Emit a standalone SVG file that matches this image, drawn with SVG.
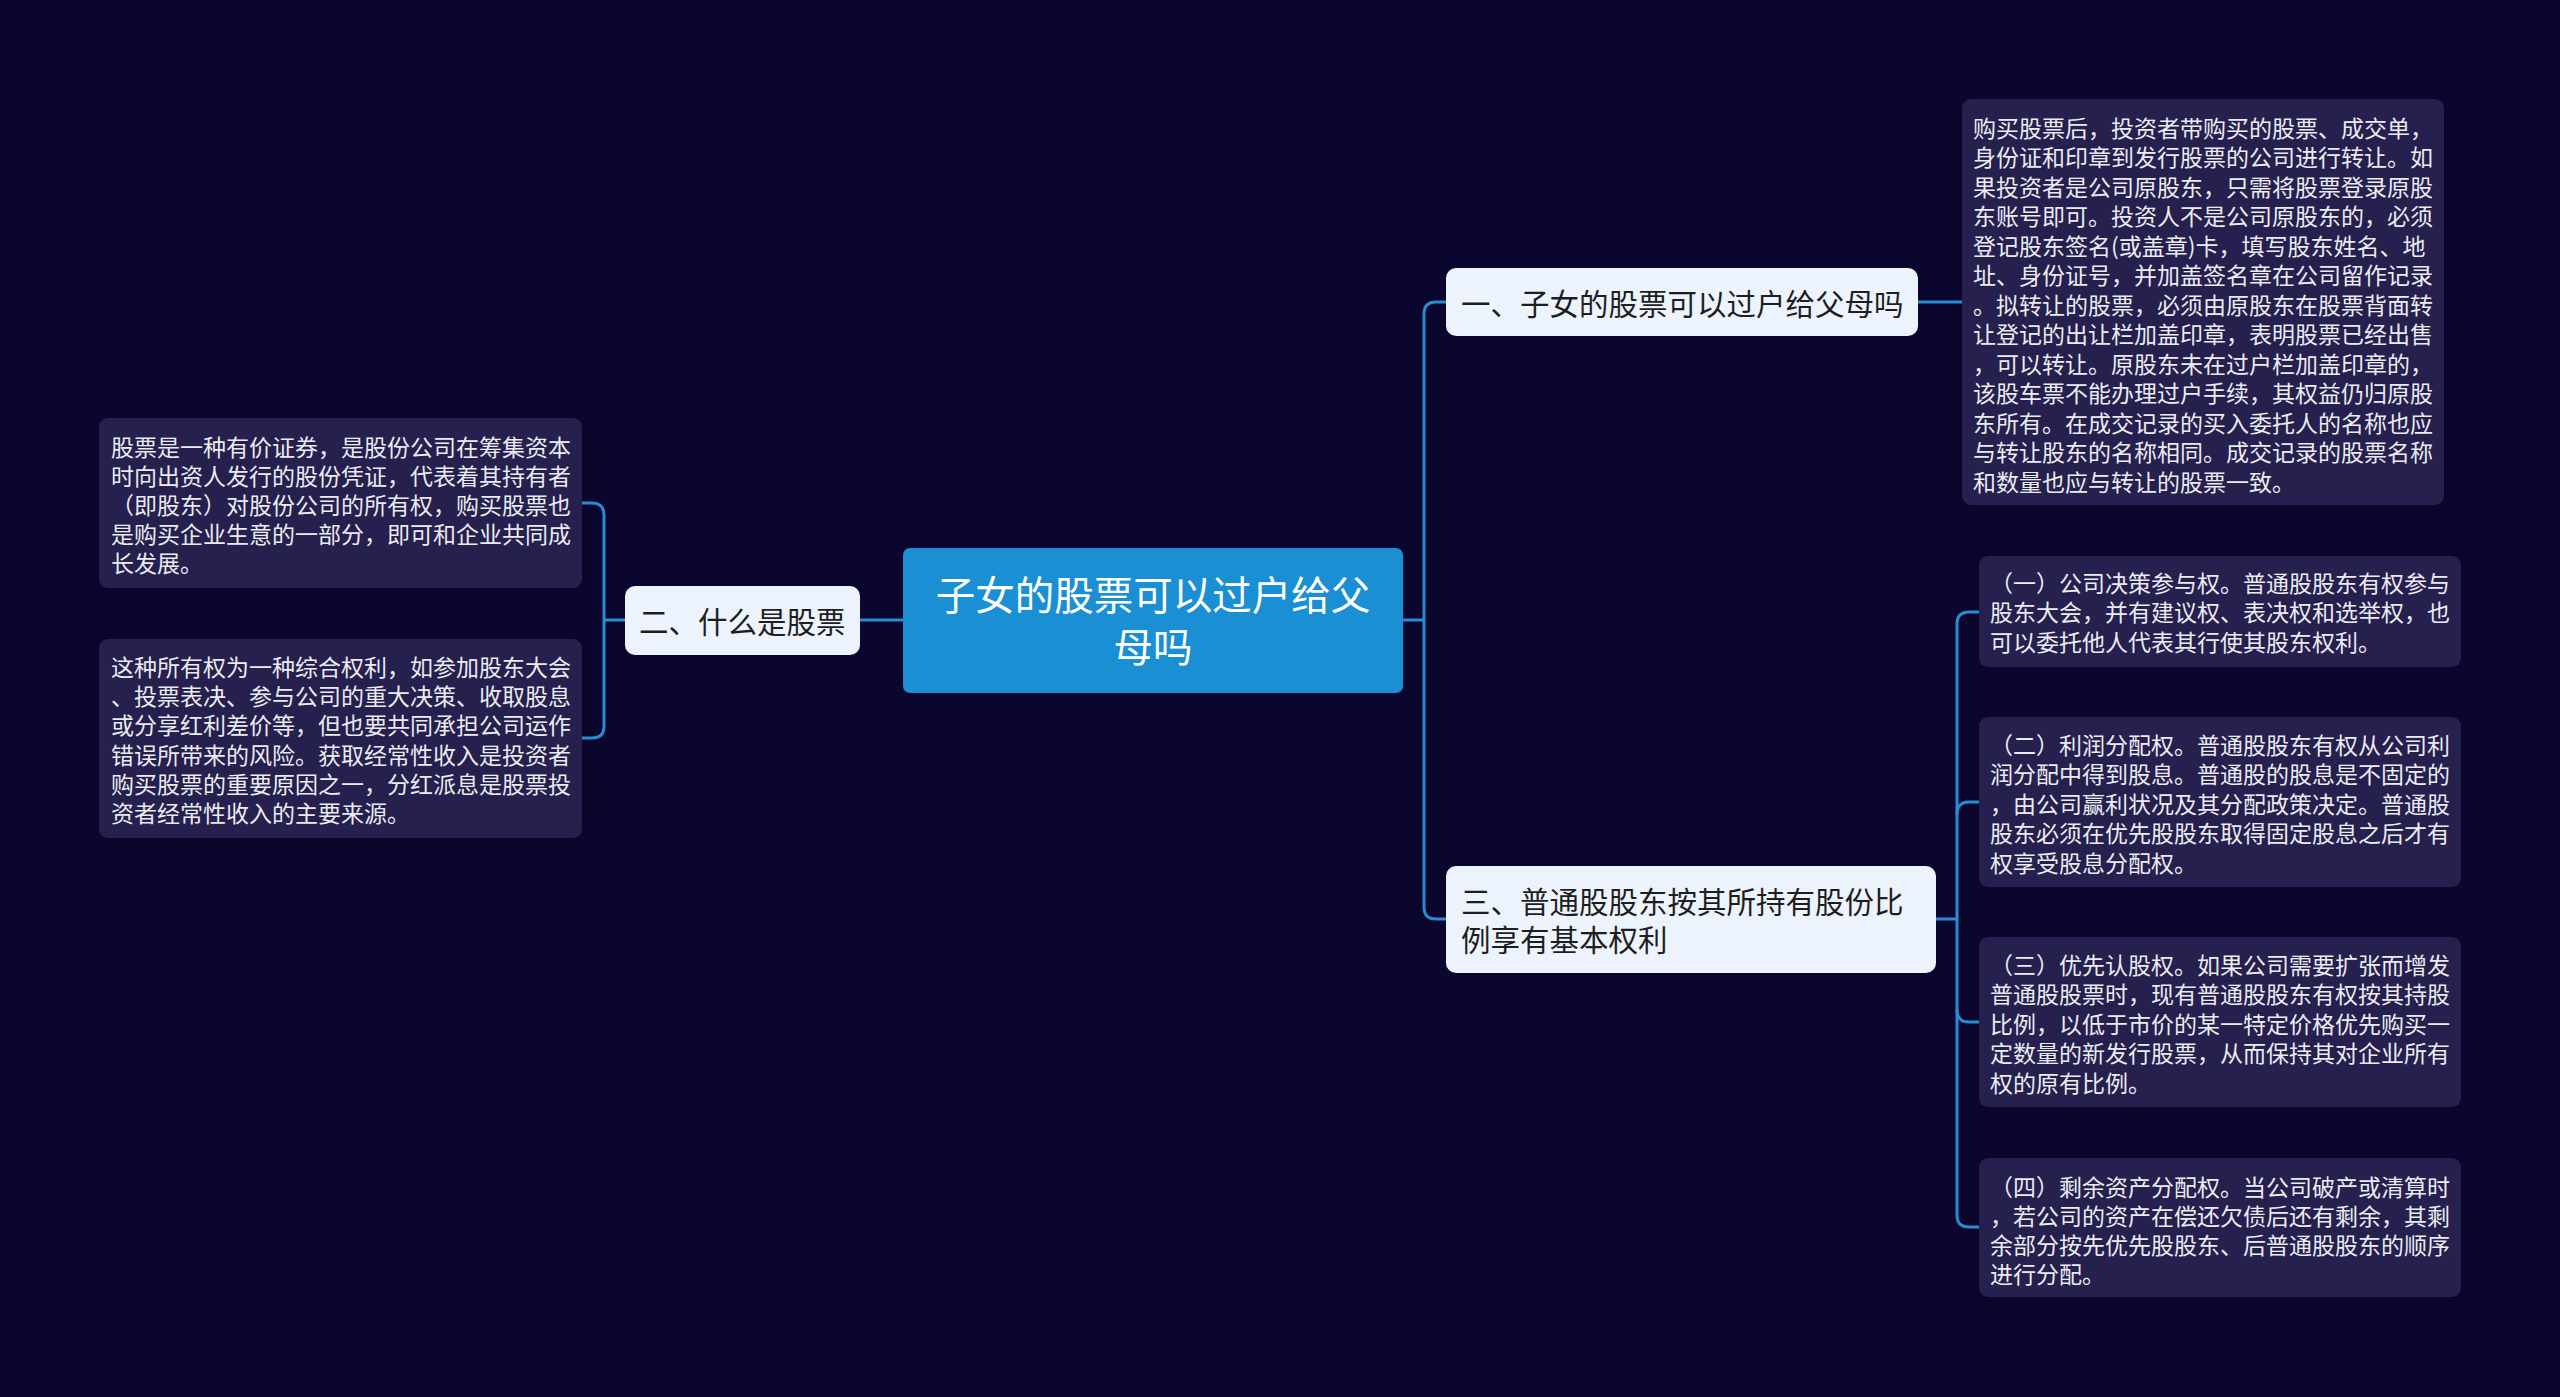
<svg xmlns="http://www.w3.org/2000/svg" width="2560" height="1397" viewBox="0 0 2560 1397">
<style>
.bg{fill:#0a062e}
.root{fill:#1b8fd3}
.l1{fill:#edf3fc}
.tb{fill:#25204d}
.t-root{font-family:"Noto Sans CJK SC","Liberation Sans",sans-serif;font-size:39.5px;fill:#ffffff;dominant-baseline:central;text-anchor:middle}
.t-l1{font-family:"Noto Sans CJK SC","Liberation Sans",sans-serif;font-size:29.5px;fill:#1e1e1e;dominant-baseline:central}
.t-s{font-family:"Noto Sans CJK SC","Liberation Sans",sans-serif;font-size:23px;fill:#ebebf2;dominant-baseline:central}
.c{fill:none;stroke:#2a8bd2;stroke-width:3}
</style>
<rect class="bg" x="0" y="0" width="2560" height="1397"/>
<g id="connectors">
<path class="c" d="M903 620 H860"/>
<path class="c" d="M625 620 H604"/>
<path class="c" d="M581 503 H592 Q604 503 604 515 V726 Q604 738 592 738 H581"/>
<path class="c" d="M1403 620 H1424"/>
<path class="c" d="M1446 302 H1436 Q1424 302 1424 314 V907 Q1424 919 1436 919 H1446"/>
<path class="c" d="M1918 302 H1962"/>
<path class="c" d="M1936 919 H1957"/>
<path class="c" d="M1979 612 H1969 Q1957 612 1957 624 V1215 Q1957 1227 1969 1227 H1979"/>
<path class="c" d="M1957 814 Q1957 802 1969 802 H1979"/>
<path class="c" d="M1957 1010 Q1957 1022 1969 1022 H1979"/>
</g>
<g id="root">
<rect class="root" x="903" y="548" width="500" height="145" rx="7"/>
<text class="t-root" x="1153" y="592">子女的股票可以过户给父</text>
<text class="t-root" x="1153" y="644.5">母吗</text>
</g>
<g id="n-what">
<rect class="l1" x="625" y="586" width="235" height="69" rx="10"/>
<text class="t-l1" x="639" y="619.5">二、什么是股票</text>
</g>
<g id="n-what-1">
<rect class="tb" x="99" y="418" width="483" height="170" rx="9"/>
<text class="t-s" x="111" y="445.5">股票是一种有价证券，是股份公司在筹集资本</text>
<text class="t-s" x="111" y="474.5">时向出资人发行的股份凭证，代表着其持有者</text>
<text class="t-s" x="111" y="503.5">（即股东）对股份公司的所有权，购买股票也</text>
<text class="t-s" x="111" y="532.5">是购买企业生意的一部分，即可和企业共同成</text>
<text class="t-s" x="111" y="561.5">长发展。</text>
</g>
<g id="n-what-2">
<rect class="tb" x="99" y="639" width="483" height="199" rx="9"/>
<text class="t-s" x="111" y="665.5">这种所有权为一种综合权利，如参加股东大会</text>
<text class="t-s" x="111" y="694.5">、投票表决、参与公司的重大决策、收取股息</text>
<text class="t-s" x="111" y="724">或分享红利差价等，但也要共同承担公司运作</text>
<text class="t-s" x="111" y="753.5">错误所带来的风险。获取经常性收入是投资者</text>
<text class="t-s" x="111" y="782.5">购买股票的重要原因之一，分红派息是股票投</text>
<text class="t-s" x="111" y="811.5">资者经常性收入的主要来源。</text>
</g>
<g id="n-transfer">
<rect class="l1" x="1446" y="268" width="472" height="68" rx="10"/>
<text class="t-l1" x="1461" y="301.5">一、子女的股票可以过户给父母吗</text>
</g>
<g id="n-transfer-1">
<rect class="tb" x="1962" y="99" width="482" height="406" rx="9"/>
<text class="t-s" x="1973" y="126.5">购买股票后，投资者带购买的股票、成交单，</text>
<text class="t-s" x="1973" y="156">身份证和印章到发行股票的公司进行转让。如</text>
<text class="t-s" x="1973" y="185.5">果投资者是公司原股东，只需将股票登录原股</text>
<text class="t-s" x="1973" y="215">东账号即可。投资人不是公司原股东的，必须</text>
<text class="t-s" x="1973" y="244.5">登记股东签名(或盖章)卡，填写股东姓名、地</text>
<text class="t-s" x="1973" y="274">址、身份证号，并加盖签名章在公司留作记录</text>
<text class="t-s" x="1973" y="303.5">。拟转让的股票，必须由原股东在股票背面转</text>
<text class="t-s" x="1973" y="333">让登记的出让栏加盖印章，表明股票已经出售</text>
<text class="t-s" x="1973" y="362.5">，可以转让。原股东未在过户栏加盖印章的，</text>
<text class="t-s" x="1973" y="392">该股车票不能办理过户手续，其权益仍归原股</text>
<text class="t-s" x="1973" y="421.5">东所有。在成交记录的买入委托人的名称也应</text>
<text class="t-s" x="1973" y="451">与转让股东的名称相同。成交记录的股票名称</text>
<text class="t-s" x="1973" y="480.5">和数量也应与转让的股票一致。</text>
</g>
<g id="n-rights">
<rect class="l1" x="1446" y="866" width="490" height="107" rx="10"/>
<text class="t-l1" x="1461" y="899.5">三、普通股股东按其所持有股份比</text>
<text class="t-l1" x="1461" y="937.5">例享有基本权利</text>
</g>
<g id="n-rights-1">
<rect class="tb" x="1979" y="556" width="482" height="111" rx="9"/>
<text class="t-s" x="1990" y="581.5">（一）公司决策参与权。普通股股东有权参与</text>
<text class="t-s" x="1990" y="611">股东大会，并有建议权、表决权和选举权，也</text>
<text class="t-s" x="1990" y="640.5">可以委托他人代表其行使其股东权利。</text>
</g>
<g id="n-rights-2">
<rect class="tb" x="1979" y="717" width="482" height="170" rx="9"/>
<text class="t-s" x="1990" y="743.5">（二）利润分配权。普通股股东有权从公司利</text>
<text class="t-s" x="1990" y="773">润分配中得到股息。普通股的股息是不固定的</text>
<text class="t-s" x="1990" y="802.5">，由公司赢利状况及其分配政策决定。普通股</text>
<text class="t-s" x="1990" y="832">股东必须在优先股股东取得固定股息之后才有</text>
<text class="t-s" x="1990" y="861.5">权享受股息分配权。</text>
</g>
<g id="n-rights-3">
<rect class="tb" x="1979" y="937" width="482" height="170" rx="9"/>
<text class="t-s" x="1990" y="963.5">（三）优先认股权。如果公司需要扩张而增发</text>
<text class="t-s" x="1990" y="993">普通股股票时，现有普通股股东有权按其持股</text>
<text class="t-s" x="1990" y="1022.5">比例，以低于市价的某一特定价格优先购买一</text>
<text class="t-s" x="1990" y="1052">定数量的新发行股票，从而保持其对企业所有</text>
<text class="t-s" x="1990" y="1081.5">权的原有比例。</text>
</g>
<g id="n-rights-4">
<rect class="tb" x="1979" y="1158" width="482" height="139" rx="9"/>
<text class="t-s" x="1990" y="1185.5">（四）剩余资产分配权。当公司破产或清算时</text>
<text class="t-s" x="1990" y="1214.5">，若公司的资产在偿还欠债后还有剩余，其剩</text>
<text class="t-s" x="1990" y="1243.5">余部分按先优先股股东、后普通股股东的顺序</text>
<text class="t-s" x="1990" y="1272.5">进行分配。</text>
</g>
</svg>
